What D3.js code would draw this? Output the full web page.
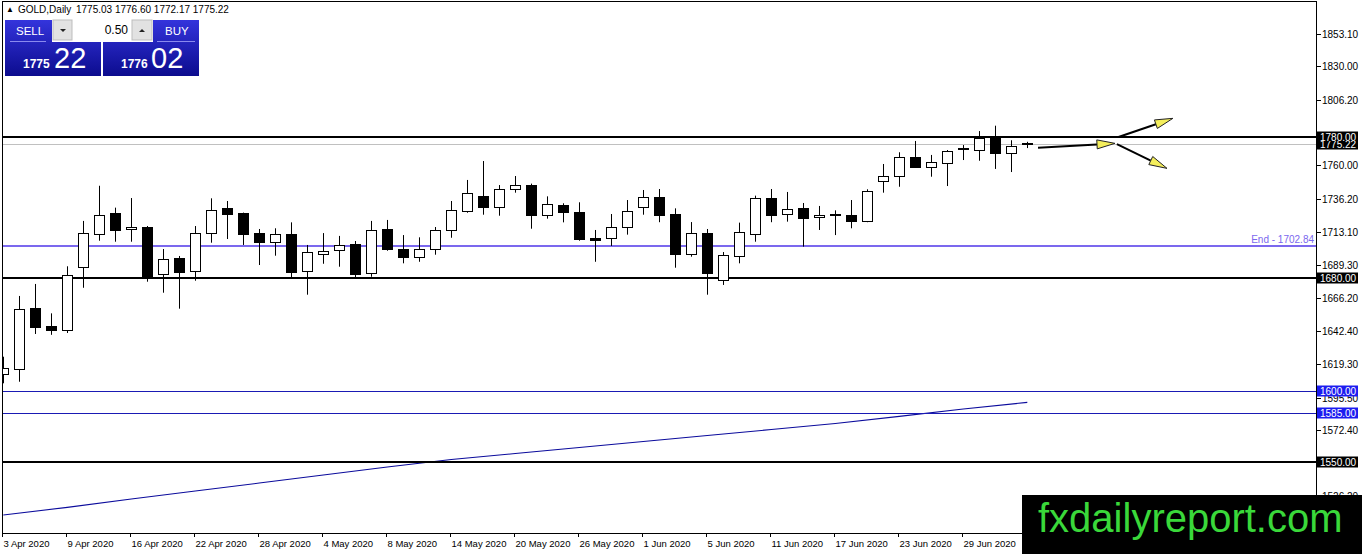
<!DOCTYPE html>
<html><head><meta charset="utf-8">
<script src="https://cdn.jsdelivr.net/npm/d3@7"></script>
<style>
html,body{margin:0;padding:0;background:#fff;overflow:hidden}
svg{display:block}
text{font-family:"Liberation Sans",Arial,sans-serif}
</style>
</head><body>
<svg id="c" width="1362" height="554"></svg>
<script>
// ---------------- data ----------------
const symbolName = "GOLD,Daily";
const dates = ["2020-04-03","2020-04-06","2020-04-07","2020-04-08","2020-04-09","2020-04-13","2020-04-14","2020-04-15","2020-04-16","2020-04-17",
"2020-04-20","2020-04-21","2020-04-22","2020-04-23","2020-04-24","2020-04-27","2020-04-28","2020-04-29","2020-04-30","2020-05-01",
"2020-05-04","2020-05-05","2020-05-06","2020-05-07","2020-05-08","2020-05-11","2020-05-12","2020-05-13","2020-05-14","2020-05-15",
"2020-05-18","2020-05-19","2020-05-20","2020-05-21","2020-05-22","2020-05-25","2020-05-26","2020-05-27","2020-05-28","2020-05-29",
"2020-06-01","2020-06-02","2020-06-03","2020-06-04","2020-06-05","2020-06-08","2020-06-09","2020-06-10","2020-06-11","2020-06-12",
"2020-06-15","2020-06-16","2020-06-17","2020-06-18","2020-06-19","2020-06-22","2020-06-23","2020-06-24","2020-06-25","2020-06-26",
"2020-06-29","2020-06-30","2020-07-01","2020-07-02","2020-07-03"];
const openP  = [1612.1,1615.6,1659.2,1646.5,1643.6,1688.2,1711.1,1726.2,1714.7,1716.3,
1682.8,1694.2,1685.0,1711.8,1729.5,1726.2,1712.0,1705.9,1711.4,1685.0,
1697.0,1700.0,1704.1,1683.5,1714.7,1700.7,1695.3,1700.5,1714.0,1727.8,
1738.0,1730.7,1743.0,1746.2,1724.7,1731.7,1726.9,1708.3,1708.3,1716.1,
1730.2,1737.3,1725.5,1697.4,1712.0,1678.6,1696.0,1711.6,1736.8,1725.3,
1729.5,1723.2,1724.6,1724.6,1720.8,1748.6,1752.2,1766.1,1759.0,1761.8,
1771.2,1770.6,1779.1,1768.5,1775.03];
const highP  = [1624.5,1667.5,1676.0,1655.2,1688.5,1720.6,1745.5,1730.0,1736.8,1717.0,
1700.7,1695.8,1717.0,1736.6,1734.7,1726.5,1714.9,1715.4,1719.6,1703.6,
1712.0,1710.0,1706.4,1720.6,1721.3,1710.6,1709.0,1716.3,1734.7,1749.6,
1763.0,1746.0,1752.4,1747.0,1738.0,1733.1,1733.8,1714.2,1725.5,1735.4,
1742.5,1743.2,1729.5,1719.8,1714.9,1698.6,1719.4,1738.5,1743.2,1741.1,
1733.3,1731.2,1728.1,1735.4,1743.0,1760.9,1769.2,1777.2,1767.3,1770.8,
1774.3,1784.2,1788.0,1777.7,1776.60];
const lowP   = [1605.7,1606.8,1640.6,1640.0,1641.3,1673.3,1706.6,1705.9,1705.9,1677.6,
1669.8,1658.5,1678.3,1705.2,1707.8,1703.6,1689.4,1696.0,1680.0,1668.4,
1690.3,1688.2,1680.4,1681.1,1699.5,1690.6,1691.7,1696.7,1708.7,1726.4,
1725.0,1724.3,1740.6,1715.1,1722.2,1719.6,1706.6,1691.7,1702.9,1710.9,
1725.0,1719.7,1687.5,1695.3,1668.4,1675.3,1690.6,1705.9,1719.7,1720.1,
1702.4,1714.2,1710.6,1715.4,1719.7,1740.6,1744.8,1758.3,1751.9,1745.3,
1763.7,1763.2,1757.4,1755.2,1772.17];
const closeP = [1616.3,1658.1,1645.7,1643.6,1682.1,1711.8,1724.8,1714.4,1716.3,1681.8,
1693.4,1684.7,1711.8,1728.1,1725.7,1711.6,1705.9,1711.1,1684.7,1698.4,
1699.3,1703.8,1683.3,1714.0,1700.5,1695.3,1700.7,1714.2,1728.1,1740.2,
1730.7,1743.0,1746.0,1725.0,1732.4,1726.7,1708.0,1707.3,1716.1,1727.4,
1737.3,1725.0,1697.4,1711.8,1683.7,1696.3,1712.8,1736.8,1725.0,1728.8,
1722.9,1724.8,1724.7,1720.8,1741.8,1752.2,1765.6,1759.0,1762.1,1769.9,
1770.6,1779.1,1768.9,1773.4,1775.22];

const dateTickIdx = [0,4,8,12,16,20,24,28,32,36,40,44,48,52,56,60];
// visible scale labels (1783.10 and 1549.30 sit fully under the level boxes)
const priceTicks = [1853.10,1830.00,1806.20,1760.00,1736.20,1713.10,1689.30,1666.20,1642.40,1619.30,1595.50,1572.40,1526.20];

// moving average read at every 4th bar
const maIdx  = [0,4,8,12,16,20,24,28,32,36,40,44,48,52,56,60,64];
const maVals = [1512.5,1517.9,1523.8,1529.5,1535.1,1540.8,1546.5,1551.8,1556.0,1560.3,1564.5,1568.7,1573.0,1577.2,1582.3,1587.5,1592.2];

const blackLevels = [1780.00, 1680.00, 1550.00];
const blueLevels  = [1600.00, 1585.00];
const endLevel    = 1702.84;
const bidPrice    = 1775.22;
const askPrice    = 1776.02;
const lotSize     = "0.50";

// arrows: [fromIdx, fromPrice, toIdx, toPrice]
const arrows = [
  [64.67, 1772.4, 69.48, 1775.5],
  [69.7, 1780.0, 73.1, 1793.2],
  [69.6, 1774.9, 72.73, 1757.8]
];
const watermark = "fxdailyreport.com";

// ---------------- drawing ----------------
const svg = d3.select("#c");
const W = 1362, H = 554;
const plotL = 2.5, plotR = 1316, plotT = 1, plotB = 533;

svg.append("rect").attr("width", W).attr("height", H).attr("fill", "#fff");

const x = d3.scaleLinear().domain([0, 64]).range([3.3, 1027.3]);
const y = d3.scaleLinear().domain([1550, 1780]).range([462, 137]);

const defs = svg.append("defs");
defs.append("clipPath").attr("id", "plotclip").append("rect")
  .attr("x", plotL + 0.5).attr("y", plotT).attr("width", plotR - plotL - 0.5).attr("height", plotB - plotT);
defs.append("clipPath").attr("id", "bidclip").append("rect")
  .attr("x", plotR + 1).attr("y", Math.round(y(1780)) + 4).attr("width", 46).attr("height", 20);
const grad = defs.append("linearGradient").attr("id", "blueg").attr("x1", 0).attr("y1", 0).attr("x2", 0).attr("y2", 1);
grad.append("stop").attr("offset", "0%").attr("stop-color", "#3434dc");
grad.append("stop").attr("offset", "100%").attr("stop-color", "#0c0c8e");

const plot = svg.append("g").attr("clip-path", "url(#plotclip)");

// MA line
const maData = maIdx.map((d, i) => [d, maVals[i]]);
plot.append("path").datum(maData)
  .attr("d", d3.line().x(d => x(d[0])).y(d => y(d[1])))
  .attr("fill", "none").attr("stroke", "#0b0b9c").attr("stroke-width", 1.1);

// level lines
plot.selectAll(".blk").data(blackLevels).join("line")
  .attr("x1", plotL).attr("x2", plotR).attr("y1", d => Math.round(y(d))).attr("y2", d => Math.round(y(d)))
  .attr("stroke", "#000").attr("stroke-width", 2.2);
plot.selectAll(".blu").data(blueLevels).join("line")
  .attr("x1", plotL).attr("x2", plotR).attr("y1", d => Math.round(y(d)) + 0.5).attr("y2", d => Math.round(y(d)) + 0.5)
  .attr("stroke", "#1a1ab4").attr("stroke-width", 1.2);
plot.append("line").attr("x1", plotL).attr("x2", plotR)
  .attr("y1", Math.round(y(endLevel))).attr("y2", Math.round(y(endLevel)))
  .attr("stroke", "#7b68ee").attr("stroke-width", 2);
plot.append("line").attr("x1", plotL).attr("x2", plotR)
  .attr("y1", Math.round(y(bidPrice)) + 0.5).attr("y2", Math.round(y(bidPrice)) + 0.5)
  .attr("stroke", "#c0c0c0").attr("stroke-width", 1);

// candles
const bars = dates.map((d, i) => ({i, o: openP[i], h: highP[i], l: lowP[i], c: closeP[i]}));
const cg = plot.append("g");
cg.selectAll(".wick").data(bars).join("line")
  .attr("x1", d => Math.round(x(d.i)) + 0.5).attr("x2", d => Math.round(x(d.i)) + 0.5)
  .attr("y1", d => y(d.h)).attr("y2", d => y(d.l))
  .attr("stroke", "#000").attr("stroke-width", 1);
cg.selectAll(".body").data(bars).join("rect")
  .attr("x", d => Math.round(x(d.i)) - 4.5)
  .attr("width", 10)
  .attr("y", d => { const t = Math.round(y(Math.max(d.o, d.c))); const b = Math.round(y(Math.min(d.o, d.c))); return (b - t < 2) ? t - 0.5 : t + 0.5; })
  .attr("height", d => { const t = Math.round(y(Math.max(d.o, d.c))); const b = Math.round(y(Math.min(d.o, d.c))); return Math.max(b - t, 1); })
  .attr("fill", d => d.c >= d.o ? "#fff" : "#000")
  .attr("stroke", "#000").attr("stroke-width", 1);

// end label
plot.append("text").attr("x", plotR - 2).attr("y", Math.round(y(endLevel)) - 3)
  .attr("text-anchor", "end").attr("font-size", 10).attr("fill", "#7b68ee")
  .text("End - " + endLevel.toFixed(2));

// arrows
const ag = plot.append("g");
arrows.forEach(a => {
  const x1 = x(a[0]), y1 = y(a[1]), x2 = x(a[2]), y2 = y(a[3]);
  const ang = Math.atan2(y2 - y1, x2 - x1);
  const len = 18, hw = 4.5;
  const bx = x2 - len * Math.cos(ang), by = y2 - len * Math.sin(ang);
  ag.append("line").attr("x1", x1).attr("y1", y1).attr("x2", bx).attr("y2", by)
    .attr("stroke", "#000").attr("stroke-width", 2);
  const px = -Math.sin(ang) * hw, py = Math.cos(ang) * hw;
  ag.append("path")
    .attr("d", `M${x2},${y2} L${bx + px},${by + py} L${bx - px},${by - py} Z`)
    .attr("fill", "#f4ee5c").attr("stroke", "#222").attr("stroke-width", 1);
});

// frame
svg.append("line").attr("x1", plotL).attr("x2", plotL).attr("y1", plotT).attr("y2", plotB).attr("stroke", "#000");
svg.append("line").attr("x1", plotL).attr("x2", plotR).attr("y1", plotT + 0.5).attr("y2", plotT + 0.5).attr("stroke", "#000");
svg.append("line").attr("x1", plotR + 0.5).attr("x2", plotR + 0.5).attr("y1", plotT).attr("y2", H).attr("stroke", "#000");
svg.append("line").attr("x1", plotL).attr("x2", plotR).attr("y1", plotB + 0.5).attr("y2", plotB + 0.5).attr("stroke", "#000");

// price axis ticks
const pa = svg.append("g");
priceTicks.forEach(p => {
  const yy = Math.round(y(p)) + 0.5;
  pa.append("line").attr("x1", plotR).attr("x2", plotR + 5).attr("y1", yy).attr("y2", yy).attr("stroke", "#000");
  pa.append("text").attr("x", plotR + 6).attr("y", yy + 3.5).attr("font-size", 10).attr("fill", "#000").text(p.toFixed(2));
});
function priceBox(p, bg, g) {
  const yy = Math.round(y(p));
  g.append("rect").attr("x", plotR + 1).attr("y", yy - 5.5).attr("width", 41).attr("height", 11).attr("fill", bg);
  g.append("text").attr("x", plotR + 4).attr("y", yy + 4).attr("font-size", 10).attr("fill", "#fff").text(p.toFixed(2));
}
blackLevels.forEach(p => priceBox(p, "#000", pa));
blueLevels.forEach(p => priceBox(p, "#1c1cf0", pa));
// bid box: top part hidden under the 1780 box, as in the reference
priceBox(bidPrice, "#000", pa.append("g").attr("clip-path", "url(#bidclip)"));

// date axis
const fmt = d3.timeFormat("%-d %b %Y");
const parse = d3.timeParse("%Y-%m-%d");
const da = svg.append("g");
dateTickIdx.forEach(i => {
  const xx = Math.round(x(i)) - 0.5;
  da.append("line").attr("x1", xx).attr("x2", xx).attr("y1", plotB).attr("y2", plotB + 4).attr("stroke", "#000");
  da.append("text").attr("x", xx + 1).attr("y", 547).attr("font-size", 9.5).attr("fill", "#000").text(fmt(parse(dates[i])));
});

// header
const last = bars[bars.length - 1];
svg.append("text").attr("x", 6).attr("y", 12).attr("font-size", 8).attr("fill", "#000").text("▲");
svg.append("text").attr("x", 18).attr("y", 13).attr("font-size", 10).attr("fill", "#000").text(symbolName);
svg.append("text").attr("x", 76).attr("y", 13).attr("font-size", 10).attr("fill", "#000")
  .text([last.o, last.h, last.l, last.c].map(v => v.toFixed(2)).join(" "));

// trade panel
const tp = svg.append("g");
tp.append("rect").attr("x", 5).attr("y", 20).attr("width", 96).attr("height", 56).attr("fill", "url(#blueg)");
tp.append("rect").attr("x", 103).attr("y", 20).attr("width", 96).attr("height", 56).attr("fill", "url(#blueg)");
tp.append("rect").attr("x", 52).attr("y", 19).attr("width", 101).attr("height", 23).attr("fill", "#fff");
tp.append("rect").attr("x", 53).attr("y", 20).attr("width", 19).attr("height", 20).attr("fill", "#e2e2e2").attr("stroke", "#bdbdbd");
tp.append("rect").attr("x", 73).attr("y", 20).attr("width", 58).attr("height", 20).attr("fill", "#fff");
tp.append("rect").attr("x", 132).attr("y", 20).attr("width", 20).attr("height", 20).attr("fill", "#e2e2e2").attr("stroke", "#bdbdbd");
tp.append("path").attr("d", "M60,29 L66,29 L63,32 Z").attr("fill", "#222");
tp.append("path").attr("d", "M139,32 L145,32 L142,29 Z").attr("fill", "#222");
tp.append("text").attr("x", 128).attr("y", 34).attr("text-anchor", "end").attr("font-size", 12).attr("fill", "#000").text(lotSize);
tp.append("line").attr("x1", 10).attr("x2", 46).attr("y1", 41.5).attr("y2", 41.5).attr("stroke", "#8a8aee");
tp.append("line").attr("x1", 157).attr("x2", 195).attr("y1", 41.5).attr("y2", 41.5).attr("stroke", "#8a8aee");
tp.append("text").attr("x", 16).attr("y", 35).attr("font-size", 11.5).attr("fill", "#fff").text("SELL");
tp.append("text").attr("x", 165).attr("y", 35).attr("font-size", 11.5).attr("fill", "#fff").text("BUY");
const bidStr = bidPrice.toFixed(2).split("."), askStr = askPrice.toFixed(2).split(".");
tp.append("text").attr("x", 23).attr("y", 68).attr("font-size", 12).attr("font-weight", "bold").attr("fill", "#fff").text(bidStr[0]);
tp.append("text").attr("x", 54).attr("y", 68).attr("font-size", 29).attr("fill", "#fff").text(bidStr[1]);
tp.append("text").attr("x", 121).attr("y", 68).attr("font-size", 12).attr("font-weight", "bold").attr("fill", "#fff").text(askStr[0]);
tp.append("text").attr("x", 151).attr("y", 68).attr("font-size", 29).attr("fill", "#fff").text(askStr[1]);

// watermark
svg.append("rect").attr("x", 1022).attr("y", 495).attr("width", W - 1022).attr("height", H - 495).attr("fill", "#000");
svg.append("text").attr("x", 1038).attr("y", 532).attr("font-size", 40).attr("fill", "#3ad83a").text(watermark);
</script>
</body></html>
